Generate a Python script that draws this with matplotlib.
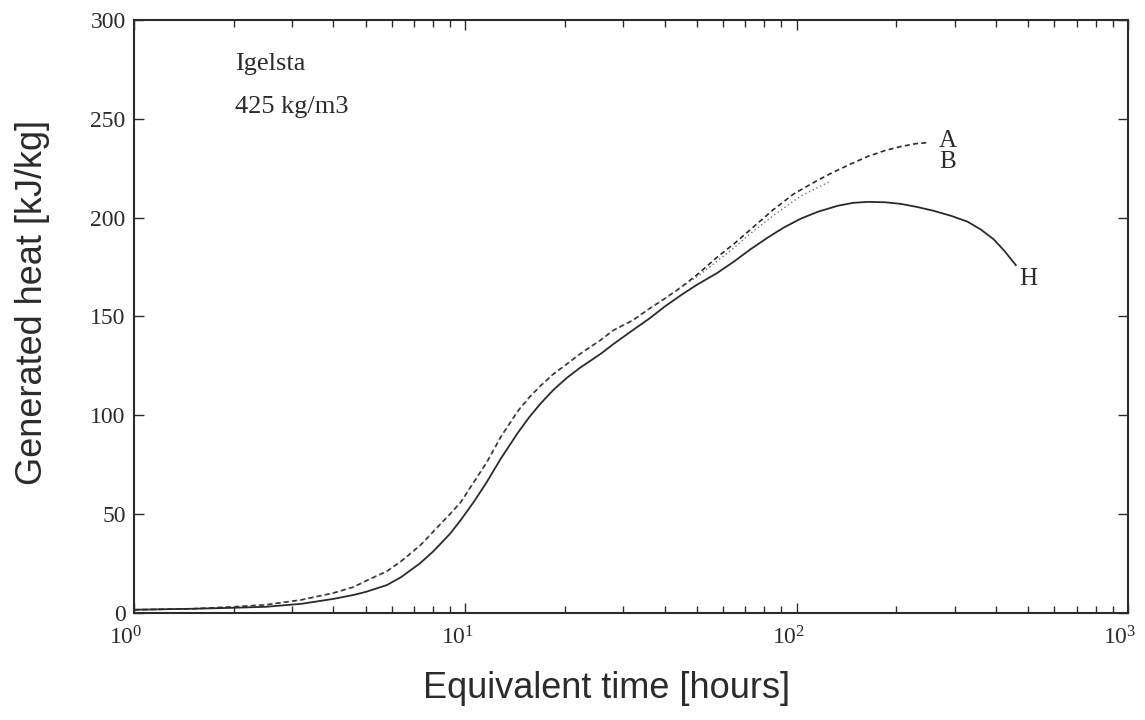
import numpy as np
import matplotlib
matplotlib.use("Agg")
import matplotlib.pyplot as plt
import matplotlib.transforms as mtransforms

# values (time in hours, heat in kJ/kg)
t_H = [1, 1.5, 2, 2.5, 3.2, 4.0, 4.6, 5.0, 5.8, 6.4, 7.3, 8.0, 9.0, 9.7, 10.6, 11.6,
       12.8, 14.4, 15.6, 16.9, 18.5, 20.3, 22.2, 25.6, 28, 32, 36, 40, 45, 50, 57.6,
       65, 72.6, 82, 91.5, 103, 116, 133, 148, 164, 185, 206, 230, 259, 292, 328,
       360, 394, 425, 459]
heat_H = [1.5, 2, 2.5, 3, 4.5, 7, 9, 10.5, 14, 18, 25, 31, 40, 47, 56, 66,
          78, 91, 99, 106, 113, 119, 124, 131, 136, 143, 149, 155, 161, 166, 172,
          178, 184, 190, 195, 199.5, 203, 206, 207.5, 208, 207.8, 207, 205.5, 203.5, 201, 198,
          194, 189, 183, 176]

t_A = [1, 1.5, 2, 2.5, 3.2, 4.0, 4.6, 5.0, 5.8, 6.4, 7.3, 8.0, 9.0, 9.7, 10.6, 11.6,
       12.8, 14.4, 15.6, 16.9, 18.5, 20.3, 22.2, 25.6, 28, 32, 36, 40, 45, 50, 57.6,
       65, 72.6, 85, 98, 116, 129, 145, 164, 185, 206, 230, 249]
heat_A = [1.5, 2, 3, 4, 6.5, 10, 13, 16, 21, 26, 34, 41, 50, 56, 66, 76,
          89, 102, 109, 115, 121, 126, 131, 138, 143, 148, 154, 159, 165, 171, 180,
          187, 194, 204, 212, 219, 223, 227, 231, 234, 236, 237.5, 238]

t_B = [1, 1.5, 2, 2.5, 3.2, 4.0, 4.6, 5.0, 5.8, 6.4, 7.3, 8.0, 9.0, 9.7, 10.6, 11.6,
       12.8, 14.4, 15.6, 16.9, 18.5, 20.3, 22.2, 25.6, 28, 32, 36, 40, 45, 50, 57.6,
       65, 72.6, 85, 103, 125]
heat_B = [1.5, 2, 3, 4, 6.5, 10, 13, 16, 21, 26, 34, 41, 50, 56, 66, 76,
          89, 102, 109, 115, 121, 126, 131, 138, 143, 148, 154, 159, 165, 170, 178,
          185, 192, 201, 211, 218]

plt.rcParams['font.family'] = ['Liberation Serif', 'DejaVu Serif']
plt.rcParams['mathtext.fontset'] = 'custom'
plt.rcParams['mathtext.rm'] = 'Liberation Serif'
plt.rcParams['mathtext.it'] = 'Liberation Serif:italic'
sans = ['Liberation Sans', 'DejaVu Sans']
ink = '#2b2b2b'

fig = plt.figure(figsize=(11.45, 7.2), dpi=100)
ax = fig.add_axes([0.117, 0.149, 0.868, 0.823])

ax.plot(t_A, heat_A, color=ink, lw=1.2, ls=(0, (3, 2)))
ax.plot(t_B, heat_B, color='#707070', lw=1.0, ls=(0, (1, 2)))
ax.plot(t_H, heat_H, color=ink, lw=1.3)

ax.set_xscale('log')
ax.set_xlim(1, 1000)
ax.set_ylim(0, 300)
ax.set_yticks([0, 50, 100, 150, 200, 250, 300])

ax.tick_params(which='both', direction='in', top=True, right=True, colors=ink,
               labelsize=17, width=1.0)
ax.tick_params(which='major', length=7)
ax.tick_params(which='minor', length=5)
ax.tick_params(axis='y', pad=6)
ax.tick_params(axis='x', pad=10)
for sp in ax.spines.values():
    sp.set_linewidth(1.5)
    sp.set_color(ink)

# x tick labels sit a little to the left of their ticks in the original
shift = mtransforms.ScaledTranslation(-8 / 100, 0, fig.dpi_scale_trans)
for lab in ax.get_xticklabels():
    lab.set_transform(lab.get_transform() + shift)

fig.text(607 / 1145, 1 - 688 / 720, 'Equivalent time [hours]', family=sans,
         fontsize=26, color=ink, ha='center', va='center')
fig.text(33 / 1145, 1 - 302 / 720, 'Generated heat [kJ/kg]', family=sans,
         fontsize=26, color=ink, ha='center', va='center', rotation=90)

ax.text(2.02, 275, 'Igelsta', fontsize=19, color=ink)
ax.text(2.02, 253, '425 kg/m3', fontsize=19, color=ink)
ax.text(286, 239, 'A', fontsize=18, color=ink, ha='center', va='center')
ax.text(286, 228, 'B', fontsize=18, color=ink, ha='center', va='center')
ax.text(499, 169, 'H', fontsize=18, color=ink, ha='center', va='center')

fig.savefig('out.png', dpi=100)
